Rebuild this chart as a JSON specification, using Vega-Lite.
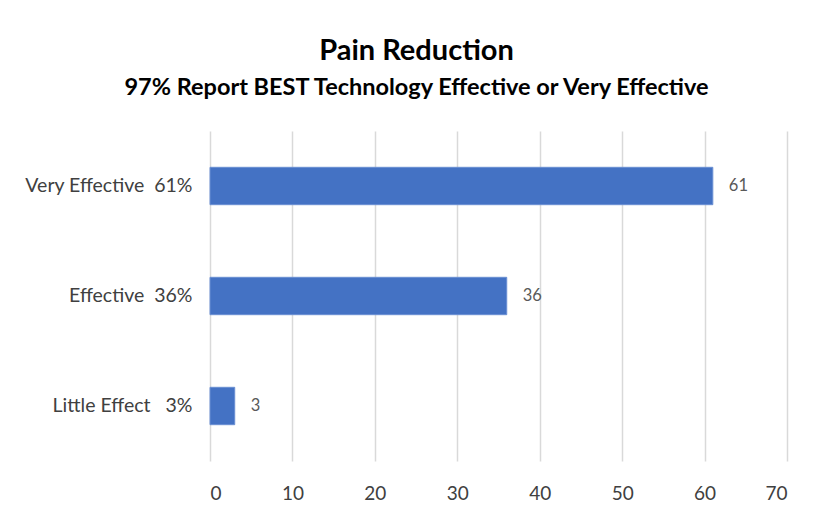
{
  "$schema": "https://vega.github.io/schema/vega-lite/v6.json",
  "autosize": "none",
  "width": 577,
  "height": 330,
  "padding": {"left": 210, "top": 131, "right": 30, "bottom": 52},
  "background": "white",
  "title": {
    "text": "Pain Reduction",
    "subtitle": "97% Report BEST Technology Effective or Very Effective",
    "anchor": "middle",
    "dx": -82,
    "font": "Lato",
    "subtitleFont": "Lato",
    "fontSize": 29,
    "subtitleFontSize": 23.5,
    "fontWeight": "bold",
    "subtitleFontWeight": "bold",
    "color": "#000000",
    "subtitleColor": "#000000",
    "offset": 32,
    "subtitlePadding": 10
  },
  "data": {
    "values": [
      {"label": "Very Effective\u00a0\u00a061%", "value": 61},
      {"label": "Effective\u00a0\u00a036%", "value": 36},
      {"label": "Little Effect\u00a0\u00a0\u00a03%", "value": 3}
    ]
  },
  "encoding": {
    "y": {
      "field": "label",
      "type": "nominal",
      "sort": null,
      "scale": {"paddingInner": 0.66, "paddingOuter": 0.33},
      "axis": {
        "title": null,
        "ticks": false,
        "domain": false,
        "grid": false,
        "labelFont": "Lato",
        "labelFontSize": 19.5,
        "labelColor": "#404040",
        "labelPadding": 18
      }
    },
    "x": {
      "field": "value",
      "type": "quantitative",
      "scale": {"domain": [0, 70], "nice": false},
      "axis": {
        "title": null,
        "values": [0, 10, 20, 30, 40, 50, 60, 70],
        "grid": true,
        "gridColor": "#D9D9D9",
        "gridWidth": 1.5,
        "domain": false,
        "ticks": false,
        "labelFont": "Lato",
        "labelFontSize": 19,
        "labelColor": "#404040",
        "labelPadding": 23
      }
    }
  },
  "layer": [
    {"mark": {"type": "bar", "color": "#4472C4", "stroke": "#6A8FD3", "strokeWidth": 1}},
    {
      "mark": {"type": "text", "align": "left", "baseline": "middle", "dx": 16, "font": "Lato", "fontSize": 16.5, "color": "#595959"},
      "encoding": {"text": {"field": "value", "type": "quantitative"}}
    }
  ],
  "config": {"view": {"stroke": null}}
}
